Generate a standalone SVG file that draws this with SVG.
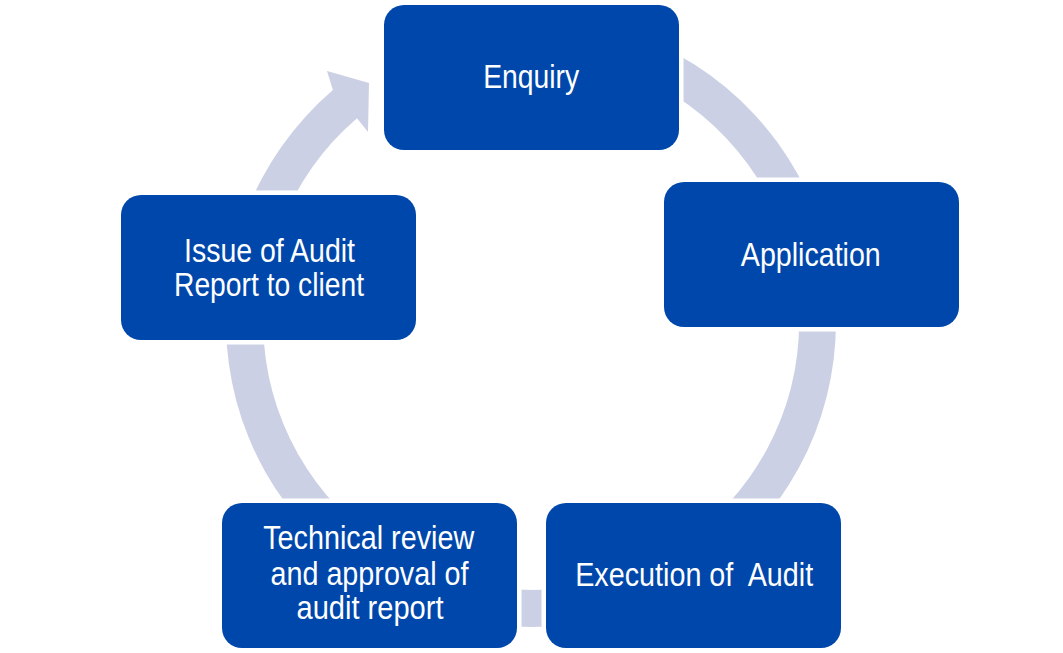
<svg xmlns="http://www.w3.org/2000/svg" width="1063" height="653" viewBox="0 0 1063 653">
<style>
.box{fill:#0047AB;stroke:#FFFFFF;stroke-width:9;paint-order:stroke;}
.lbl{fill:#FFFFFF;font-family:"Liberation Sans",Arial,sans-serif;font-size:34px;text-anchor:middle;}
.ring{fill:#CCD0E4;}
</style>
<rect width="1063" height="653" fill="#FFFFFF"/>
<g id="connectors">
<path class="ring" d="M402.1,45.6 A305,305 0 1 1 332.9,90.1 L327,71 L369,83 L368,132 L357,118.2 A268,268 0 1 0 417.7,79.1 Z"/>
</g>
<g id="node-enquiry">
<rect class="box" x="384" y="5" width="295" height="145" rx="20"/>
<text class="lbl" x="531.2" y="88.3" textLength="96" lengthAdjust="spacingAndGlyphs">Enquiry</text>
</g>
<g id="node-application">
<rect class="box" x="664" y="182" width="295" height="145" rx="20"/>
<text class="lbl" x="810.8" y="266" textLength="140" lengthAdjust="spacingAndGlyphs">Application</text>
</g>
<g id="node-execution">
<rect class="box" x="546" y="503" width="295" height="145" rx="20"/>
<text class="lbl" x="694.2" y="586" textLength="238" lengthAdjust="spacingAndGlyphs" xml:space="preserve">Execution of  Audit</text>
</g>
<g id="node-technical">
<rect class="box" x="222" y="503" width="295" height="145" rx="20"/>
<text class="lbl" x="368.7" y="549.3" textLength="211" lengthAdjust="spacingAndGlyphs">Technical review</text>
<text class="lbl" x="369.5" y="585" textLength="198" lengthAdjust="spacingAndGlyphs">and approval of</text>
<text class="lbl" x="370" y="619.3" textLength="147" lengthAdjust="spacingAndGlyphs">audit report</text>
</g>
<g id="node-issue">
<rect class="box" x="121" y="195" width="295" height="145" rx="20"/>
<text class="lbl" x="269.5" y="261.7" textLength="171" lengthAdjust="spacingAndGlyphs">Issue of Audit</text>
<text class="lbl" x="269" y="296" textLength="190" lengthAdjust="spacingAndGlyphs">Report to client</text>
</g>
</svg>
